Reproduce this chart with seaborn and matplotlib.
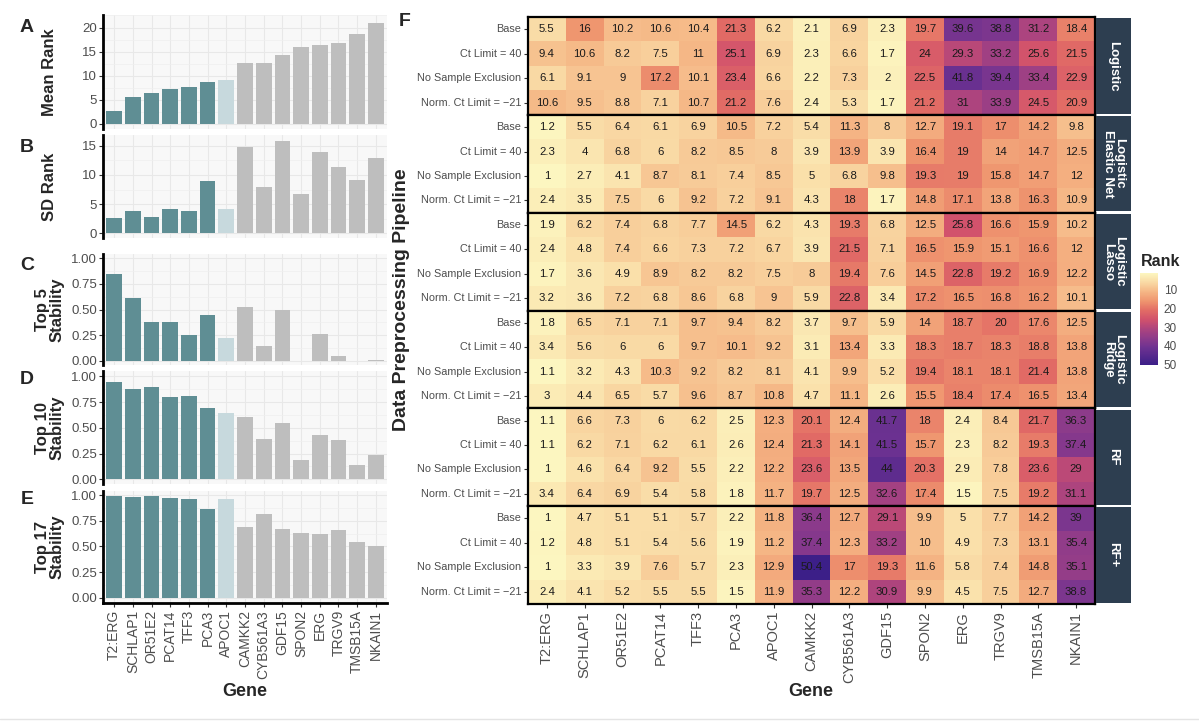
import numpy as np
import pandas as pd
import matplotlib
matplotlib.use("Agg")
import matplotlib.pyplot as plt
import seaborn as sns
from matplotlib.colors import LinearSegmentedColormap, Normalize
from matplotlib.cm import ScalarMappable
from matplotlib.ticker import MultipleLocator, FormatStrFormatter
from matplotlib.lines import Line2D

# ---------------- data ----------------
genes = ["T2:ERG", "SCHLAP1", "OR51E2", "PCAT14", "TFF3", "PCA3", "APOC1",
         "CAMKK2", "CYB561A3", "GDF15", "SPON2", "ERG", "TRGV9", "TMSB15A", "NKAIN1"]
gene_group = ["top"] * 6 + ["apoc"] + ["other"] * 8

mean_rank = [2.7, 5.6, 6.4, 7.2, 7.7, 8.7, 9.1, 12.6, 12.6, 14.2, 16.0, 16.4, 16.8, 18.7, 21.0]
sd_rank = [2.7, 3.9, 2.8, 4.1, 3.8, 8.9, 4.2, 14.8, 7.9, 15.8, 6.8, 13.9, 11.4, 9.2, 12.9]
top5_stab = [0.85, 0.61, 0.38, 0.38, 0.25, 0.45, 0.22, 0.52, 0.14, 0.50, 0.0, 0.26, 0.05, 0.0, 0.01]
top10_stab = [0.95, 0.88, 0.90, 0.80, 0.81, 0.69, 0.64, 0.61, 0.39, 0.55, 0.19, 0.43, 0.38, 0.14, 0.24]
top17_stab = [0.99, 0.98, 0.99, 0.97, 0.96, 0.86, 0.96, 0.69, 0.82, 0.67, 0.63, 0.62, 0.66, 0.54, 0.50]

pipelines = ["Base", "Ct Limit = 40", "No Sample Exclusion", "Norm. Ct Limit = \u221221"]
models = ["Logistic", "Logistic\nElastic Net", "Logistic\nLasso", "Logistic\nRidge", "RF", "RF+"]

logistic = [
    [5.5, 16, 10.2, 10.6, 10.4, 21.3, 6.2, 2.1, 6.9, 2.3, 19.7, 39.6, 38.8, 31.2, 18.4],
    [9.4, 10.6, 8.2, 7.5, 11, 25.1, 6.9, 2.3, 6.6, 1.7, 24, 29.3, 33.2, 25.6, 21.5],
    [6.1, 9.1, 9, 17.2, 10.1, 23.4, 6.6, 2.2, 7.3, 2, 22.5, 41.8, 39.4, 33.4, 22.9],
    [10.6, 9.5, 8.8, 7.1, 10.7, 21.2, 7.6, 2.4, 5.3, 1.7, 21.2, 31, 33.9, 24.5, 20.9],
]
elastic_net = [
    [1.2, 5.5, 6.4, 6.1, 6.9, 10.5, 7.2, 5.4, 11.3, 8, 12.7, 19.1, 17, 14.2, 9.8],
    [2.3, 4, 6.8, 6, 8.2, 8.5, 8, 3.9, 13.9, 3.9, 16.4, 19, 14, 14.7, 12.5],
    [1, 2.7, 4.1, 8.7, 8.1, 7.4, 8.5, 5, 6.8, 9.8, 19.3, 19, 15.8, 14.7, 12],
    [2.4, 3.5, 7.5, 6, 9.2, 7.2, 9.1, 4.3, 18, 1.7, 14.8, 17.1, 13.8, 16.3, 10.9],
]
lasso = [
    [1.9, 6.2, 7.4, 6.8, 7.7, 14.5, 6.2, 4.3, 19.3, 6.8, 12.5, 25.8, 16.6, 15.9, 10.2],
    [2.4, 4.8, 7.4, 6.6, 7.3, 7.2, 6.7, 3.9, 21.5, 7.1, 16.5, 15.9, 15.1, 16.6, 12],
    [1.7, 3.6, 4.9, 8.9, 8.2, 8.2, 7.5, 8, 19.4, 7.6, 14.5, 22.8, 19.2, 16.9, 12.2],
    [3.2, 3.6, 7.2, 6.8, 8.6, 6.8, 9, 5.9, 22.8, 3.4, 17.2, 16.5, 16.8, 16.2, 10.1],
]
ridge = [
    [1.8, 6.5, 7.1, 7.1, 9.7, 9.4, 8.2, 3.7, 9.7, 5.9, 14, 18.7, 20, 17.6, 12.5],
    [3.4, 5.6, 6, 6, 9.7, 10.1, 9.2, 3.1, 13.4, 3.3, 18.3, 18.7, 18.3, 18.8, 13.8],
    [1.1, 3.2, 4.3, 10.3, 9.2, 8.2, 8.1, 4.1, 9.9, 5.2, 19.4, 18.1, 18.1, 21.4, 13.8],
    [3, 4.4, 6.5, 5.7, 9.6, 8.7, 10.8, 4.7, 11.1, 2.6, 15.5, 18.4, 17.4, 16.5, 13.4],
]
rf = [
    [1.1, 6.6, 7.3, 6, 6.2, 2.5, 12.3, 20.1, 12.4, 41.7, 18, 2.4, 8.4, 21.7, 36.3],
    [1.1, 6.2, 7.1, 6.2, 6.1, 2.6, 12.4, 21.3, 14.1, 41.5, 15.7, 2.3, 8.2, 19.3, 37.4],
    [1, 4.6, 6.4, 9.2, 5.5, 2.2, 12.2, 23.6, 13.5, 44, 20.3, 2.9, 7.8, 23.6, 29],
    [3.4, 6.4, 6.9, 5.4, 5.8, 1.8, 11.7, 19.7, 12.5, 32.6, 17.4, 1.5, 7.5, 19.2, 31.1],
]
rf_plus = [
    [1, 4.7, 5.1, 5.1, 5.7, 2.2, 11.8, 36.4, 12.7, 29.1, 9.9, 5, 7.7, 14.2, 39],
    [1.2, 4.8, 5.1, 5.4, 5.6, 1.9, 11.2, 37.4, 12.3, 33.2, 10, 4.9, 7.3, 13.1, 35.4],
    [1, 3.3, 3.9, 7.6, 5.7, 2.3, 12.9, 50.4, 17, 19.3, 11.6, 5.8, 7.4, 14.8, 35.1],
    [2.4, 4.1, 5.2, 5.5, 5.5, 1.5, 11.9, 35.3, 12.2, 30.9, 9.9, 4.5, 7.5, 12.7, 38.8],
]
model_values = [logistic, elastic_net, lasso, ridge, rf, rf_plus]

# ---------------- style ----------------
sns.set_theme(style="white")
plt.rcParams["font.family"] = ["Liberation Sans", "DejaVu Sans"]

W, H = 1199, 726
fig = plt.figure(figsize=(W / 100, H / 100), dpi=100)


def rect(l, t, r, b):
    return [l / W, 1 - b / H, (r - l) / W, (b - t) / H]


def fx(x):
    return x / W


def fy(y):
    return 1 - y / H


group_colors = {"top": "#5f8e94", "apoc": "#c7d9dd", "other": "#bebebe"}
palette = {g: group_colors[grp] for g, grp in zip(genes, gene_group)}
grey30 = "#4d4d4d"

panels = [
    ("A", "Mean Rank", mean_rank, (103, 15, 387, 129), (-1.05, 22.6), 5, "%d", 2.5),
    ("B", "SD Rank", sd_rank, (103, 135, 387, 238), (-0.8, 16.83), 5, "%d", 2.5),
    ("C", "Top 5\nStability", top5_stab, (103, 254, 387, 365), (-0.042, 1.042), 0.25, "%.2f", 0.125),
    ("D", "Top 10\nStability", top10_stab, (103, 371, 387, 484), (-0.046, 1.053), 0.25, "%.2f", 0.125),
    ("E", "Top 17\nStability", top17_stab, (103, 491, 387, 603), (-0.052, 1.04), 0.25, "%.2f", 0.125),
]
letter_y = [28, 147, 265, 380, 500]

for i, (letter, ylab, vals, r, ylim, step, fmt, minor) in enumerate(panels):
    ax = fig.add_axes(rect(*r))
    df = pd.DataFrame({"gene": genes, "val": vals})
    sns.barplot(data=df, x="gene", y="val", hue="gene", palette=palette, order=genes,
                hue_order=genes, legend=False, width=0.84, saturation=1, ax=ax,
                edgecolor="none")
    ax.set_facecolor("#f8f8f8")
    ax.set_xlim(-0.6, 14.6)
    ax.set_ylim(*ylim)
    ax.yaxis.set_major_locator(MultipleLocator(step))
    ax.yaxis.set_major_formatter(FormatStrFormatter(fmt))
    ax.yaxis.set_minor_locator(MultipleLocator(minor))
    ax.grid(True, which="major", color="#e8e8e8", lw=0.8)
    ax.grid(True, which="minor", axis="y", color="#efefef", lw=0.5)
    ax.set_axisbelow(True)
    for s in ["top", "right"]:
        ax.spines[s].set_visible(False)
    ax.spines["left"].set_color("black")
    ax.spines["left"].set_linewidth(2)
    ax.tick_params(axis="y", which="major", length=3, width=0.8, color="#333333",
                   labelsize=9.5, labelcolor=grey30, pad=1.5, left=True)
    ax.tick_params(which="minor", length=0)
    ax.set_ylabel("")
    ax.set_xlabel("")
    if letter == "E":
        ax.spines["bottom"].set_color("black")
        ax.spines["bottom"].set_linewidth(2)
        ax.tick_params(axis="x", length=3, width=0.8, color="#333333", labelsize=10,
                       labelcolor=grey30, rotation=90, pad=2, bottom=True)
    else:
        ax.spines["bottom"].set_visible(False)
        ax.tick_params(axis="x", length=0, labelbottom=False)
    yc = (r[1] + r[3]) / 2
    fig.text(fx(50), fy(yc), ylab, rotation=90, ha="center", va="center",
             fontsize=12, fontweight="bold", linespacing=0.95)
    fig.text(fx(27), fy(letter_y[i]), letter, ha="center", va="center",
             fontsize=14, fontweight="bold")

fig.text(fx(245), fy(692), "Gene", ha="center", va="center", fontsize=13, fontweight="bold")

# ---------------- heatmap ----------------
anchors = [(1, "#fcf6c0"), (6, "#f9d9a4"), (11, "#f5b685"), (16, "#ef956f"),
           (21, "#e26c65"), (26, "#d1516c"), (31, "#ad447e"), (36, "#8e3b8a"),
           (41, "#6e3291"), (50.4, "#3c1f88")]
vmin, vmax = 1, 50.4
cmap = LinearSegmentedColormap.from_list(
    "rank", [((v - vmin) / (vmax - vmin), c) for v, c in anchors])
norm = Normalize(vmin=vmin, vmax=vmax)

hl, hr, ht, hb = 528, 1095, 17, 604
fh = (hb - ht) / 6
for i, (model, vals) in enumerate(zip(models, model_values)):
    top = ht + i * fh
    ax = fig.add_axes(rect(hl, top, hr, top + fh))
    df = pd.DataFrame(vals, index=pipelines, columns=genes)
    sns.heatmap(df, ax=ax, cmap=cmap, vmin=vmin, vmax=vmax, annot=True, fmt="g",
                cbar=False, annot_kws={"size": 8.2, "color": "#1a1a1a"})
    for s in ax.spines.values():
        s.set_visible(True)
        s.set_color("black")
        s.set_linewidth(1.6)
    ax.set_yticks(np.arange(4) + 0.5)
    ax.set_yticklabels(pipelines, rotation=0)
    ax.tick_params(axis="y", length=3, width=0.8, color="#333333", labelsize=7.8,
                   labelcolor=grey30, pad=2, left=True)
    ax.set_ylabel("")
    ax.set_xlabel("")
    if i == 5:
        ax.set_xticks(np.arange(15) + 0.5)
        ax.set_xticklabels(genes, rotation=90)
        ax.tick_params(axis="x", length=3, width=0.8, color="#333333", labelsize=10.5,
                       labelcolor=grey30, pad=2, bottom=True)
    else:
        ax.set_xticks([])
    # strip
    sax = fig.add_axes(rect(hr + 1, top + 1.2, 1131, top + fh - 1.2))
    sax.set_facecolor("#2d3e50")
    sax.set_xticks([])
    sax.set_yticks([])
    for s in sax.spines.values():
        s.set_visible(False)
    sax.text(0.5, 0.5, model, rotation=270, ha="center", va="center", color="white",
             fontsize=9.5, fontweight="bold", linespacing=0.9, transform=sax.transAxes)

fig.text(fx(402), fy(300), "Data Preprocessing Pipeline", rotation=90, ha="center",
         va="center", fontsize=14, fontweight="bold")
fig.text(fx(405), fy(22), "F", ha="center", va="center", fontsize=14, fontweight="bold")
fig.text(fx(811), fy(692), "Gene", ha="center", va="center", fontsize=13, fontweight="bold")

# colorbar
cax = fig.add_axes(rect(1140, 273, 1158, 365))
cb = fig.colorbar(ScalarMappable(norm=norm, cmap=cmap), cax=cax)
cb.set_ticks([10, 20, 30, 40, 50])
cb.outline.set_visible(False)
cax.invert_yaxis()
cax.tick_params(length=3, width=0.8, color="white", direction="in", labelsize=8.5,
                labelcolor=grey30, left=True, right=True, pad=4)
fig.text(fx(1141), fy(261), "Rank", ha="left", va="center", fontsize=11.5, fontweight="bold")

fig.add_artist(Line2D([0, 1], [fy(719), fy(719)], color="#e4e4e4", lw=1,
                      transform=fig.transFigure))

fig.savefig("out.png", dpi=100)
